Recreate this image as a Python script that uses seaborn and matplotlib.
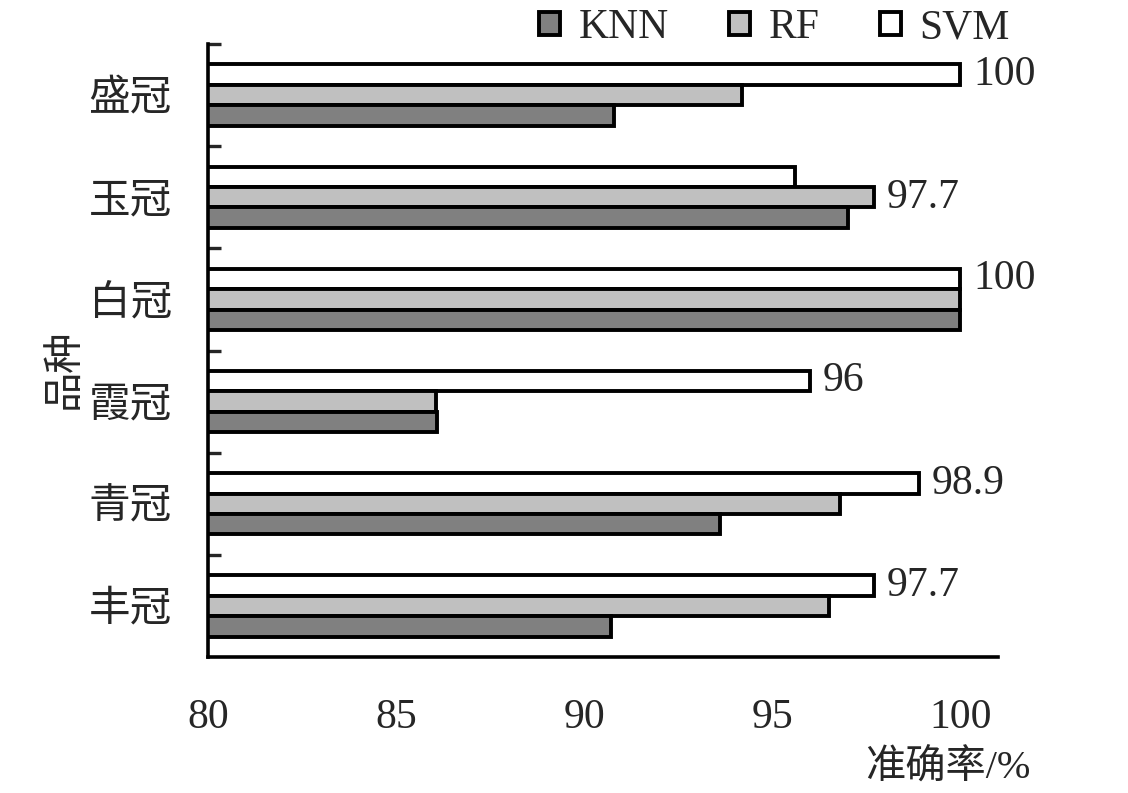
import pandas as pd
import matplotlib.pyplot as plt
import seaborn as sns
from matplotlib.patches import Patch

varieties = ['盛冠', '玉冠', '白冠', '霞冠', '青冠', '丰冠']
knn = [90.8, 97.0, 100, 86.1, 93.6, 90.7]
rf = [94.2, 97.7, 100, 86.05, 96.8, 96.5]
svm = [100, 95.6, 100, 96, 98.9, 97.7]
models = ['KNN', 'RF', 'SVM']
colors = {'KNN': '#808080', 'RF': '#c0c0c0', 'SVM': '#ffffff'}
best_labels = ['100', '97.7', '100', '96', '98.9', '97.7']

rows = []
for i, v in enumerate(varieties):
    rows.append({'品种': v, '模型': 'SVM', '准确率': svm[i]})
    rows.append({'品种': v, '模型': 'RF', '准确率': rf[i]})
    rows.append({'品种': v, '模型': 'KNN', '准确率': knn[i]})
df = pd.DataFrame(rows)

sns.set_style('white')
plt.rcParams['font.family'] = ['Liberation Serif', 'Noto Sans CJK SC']

fig = plt.figure(figsize=(11.28, 7.93), dpi=100)
ax = fig.add_axes([208 / 1128, 1 - 657 / 793, 790 / 1128, 613 / 793])

sns.barplot(data=df, y='品种', x='准确率', hue='模型', hue_order=['SVM', 'RF', 'KNN'],
            palette=colors, orient='h', width=0.6, edgecolor='black', linewidth=2.8,
            ax=ax, legend=False)

ax.set_xlim(80, 101)
ax.set_ylim(5.5, -0.5)
ax.set_xticks([80, 85, 90, 95, 100])
ax.tick_params(axis='x', direction='in', length=9, width=2.4, pad=30, labelsize=30)
ax.set_yticks(range(len(varieties)))
ax.set_yticklabels(varieties)
ax.tick_params(axis='y', which='major', length=0, pad=26, labelsize=30)
ax.set_yticks([i - 0.5 for i in range(len(varieties))], minor=True)
ax.tick_params(axis='y', which='minor', direction='in', length=9, width=2.4, left=True)
for s in ['top', 'right']:
    ax.spines[s].set_visible(False)
for s in ['left', 'bottom']:
    ax.spines[s].set_linewidth(2.6)
    ax.spines[s].set_color('black')

ax.set_xlabel('')
ax.set_ylabel('品种', fontsize=29)
ax.yaxis.set_label_coords(-0.156, 0.47)

# value label for the longest bar in each group (first one from the top)
for i, v in enumerate(varieties):
    vals = [svm[i], rf[i], knn[i]]
    j = vals.index(max(vals))
    bar = ax.containers[j][i]
    yc = bar.get_y() + bar.get_height() / 2
    ax.annotate(best_labels[i], xy=(bar.get_x() + bar.get_width(), yc),
                xytext=(9, 0), textcoords='offset points', va='center', ha='left',
                fontsize=30)

fig.text(1030 / 1128, 1 - 768 / 793, '准确率/%', fontsize=29, ha='right', va='center')

handles = [Patch(facecolor=colors[m], edgecolor='black', linewidth=2.8, label=m) for m in models]
fig.legend(handles=handles, loc='center right', bbox_to_anchor=(1010 / 1128, 1 - 28 / 793),
           ncol=3, frameon=False, fontsize=30, handlelength=0.5, handleheight=0.5,
           handletextpad=0.45, columnspacing=1.45, borderaxespad=0, borderpad=0)

fig.savefig('out.png', dpi=100)
